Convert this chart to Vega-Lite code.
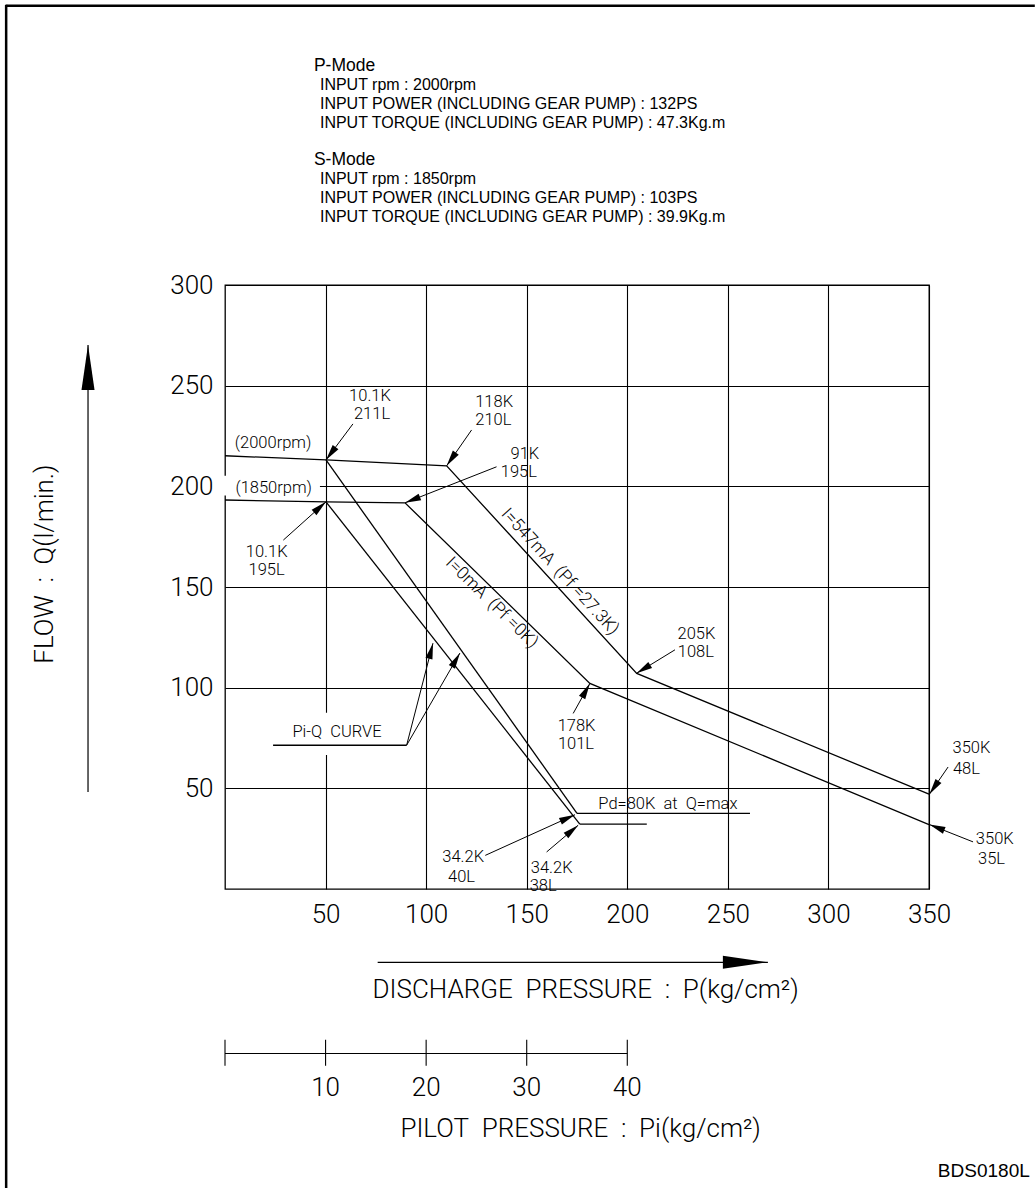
{
  "$schema": "https://vega.github.io/schema/vega-lite/v6.json",
  "width": 704,
  "height": 604,
  "autosize": {"type": "none"},
  "padding": {"left": 225, "top": 285, "right": 106, "bottom": 299},
  "background": "white",
  "config": {"view": {"stroke": "#000", "strokeWidth": 1.3}, "font": "Roboto"},
  "datasets": {
    "masks": [
      {"P": -1.5, "P2": 47.2, "Q": 195.4, "Q2": 205.3},
      {"P": 28.8, "P2": 82.5, "Q": 66.6, "Q2": 87.5}
    ],
    "curves": [
      {"s": "P", "i": 0, "P": 0, "Q": 215.2},
      {"s": "P", "i": 1, "P": 50.2, "Q": 213.1},
      {"s": "P", "i": 2, "P": 110.2, "Q": 210.2},
      {"s": "P", "i": 3, "P": 204.7, "Q": 107.1},
      {"s": "P", "i": 4, "P": 350, "Q": 47.1},
      {"s": "S", "i": 0, "P": 0, "Q": 193.2},
      {"s": "S", "i": 1, "P": 50.2, "Q": 192.3},
      {"s": "S", "i": 2, "P": 89.5, "Q": 191.8},
      {"s": "S", "i": 3, "P": 181.4, "Q": 102.1},
      {"s": "S", "i": 4, "P": 350, "Q": 32.0},
      {"s": "PiQP", "i": 0, "P": 50.2, "Q": 213.1},
      {"s": "PiQP", "i": 1, "P": 175.0, "Q": 37.6},
      {"s": "PiQS", "i": 0, "P": 50.2, "Q": 192.3},
      {"s": "PiQS", "i": 1, "P": 176.4, "Q": 32.2},
      {"s": "PdU", "i": 0, "P": 175.0, "Q": 37.6},
      {"s": "PdU", "i": 1, "P": 261.0, "Q": 37.6},
      {"s": "PdL", "i": 0, "P": 176.4, "Q": 32.2},
      {"s": "PdL", "i": 1, "P": 209.7, "Q": 32.2},
      {"s": "U", "i": 0, "P": 23.9, "Q": 71.4},
      {"s": "U", "i": 1, "P": 90.3, "Q": 71.4}
    ],
    "leaders": [
      {"tx": 50.2, "ty": 213.1, "sx": 63.6, "sy": 231.0},
      {"tx": 110.2, "ty": 210.2, "sx": 122.6, "sy": 228.0},
      {"tx": 89.5, "ty": 191.8, "sx": 135.0, "sy": 209.7},
      {"tx": 50.2, "ty": 192.3, "sx": 29.0, "sy": 173.3},
      {"tx": 204.6, "ty": 107.1, "sx": 223.7, "sy": 118.8},
      {"tx": 181.4, "ty": 102.1, "sx": 173.1, "sy": 87.2},
      {"tx": 350.2, "ty": 47.1, "sx": 359.5, "sy": 60.6},
      {"tx": 350.2, "ty": 32.0, "sx": 371.9, "sy": 23.4},
      {"tx": 174.0, "ty": 36.9, "sx": 129.4, "sy": 16.7},
      {"tx": 175.6, "ty": 31.7, "sx": 159.9, "sy": 18.4},
      {"tx": 103.4, "ty": 122.1, "sx": 90.3, "sy": 71.4},
      {"tx": 116.8, "ty": 117.2, "sx": 90.3, "sy": 71.4}
    ],
    "notes": [
      {"P": 72.1, "Q": 244.7, "t": "10.1K"},
      {"P": 73.1, "Q": 235.7, "t": "211L"},
      {"P": 133.8, "Q": 242.0, "t": "118K"},
      {"P": 133.4, "Q": 233.0, "t": "210L"},
      {"P": 149.1, "Q": 215.9, "t": "91K"},
      {"P": 146.1, "Q": 207.0, "t": "195L"},
      {"P": 20.7, "Q": 167.5, "t": "10.1K"},
      {"P": 20.7, "Q": 158.5, "t": "195L"},
      {"P": 234.4, "Q": 126.7, "t": "205K"},
      {"P": 234.1, "Q": 117.8, "t": "108L"},
      {"P": 174.8, "Q": 81.1, "t": "178K"},
      {"P": 174.5, "Q": 72.1, "t": "101L"},
      {"P": 371.1, "Q": 69.8, "t": "350K"},
      {"P": 368.6, "Q": 59.8, "t": "48L"},
      {"P": 382.7, "Q": 24.6, "t": "350K"},
      {"P": 381.1, "Q": 15.1, "t": "35L"},
      {"P": 118.4, "Q": 15.9, "t": "34.2K"},
      {"P": 117.6, "Q": 6.0, "t": "40L"},
      {"P": 162.4, "Q": 10.4, "t": "34.2K"},
      {"P": 158.2, "Q": 1.4, "t": "38L"},
      {"P": 23.9, "Q": 221.4, "t": "(2000rpm)"},
      {"P": 24.2, "Q": 199.0, "t": "(1850rpm)"},
      {"P": 55.7, "Q": 78.0, "t": "Pi-Q\u00a0\u00a0CURVE"},
      {"P": 220.2, "Q": 42.1, "t": "Pd=80K\u00a0\u00a0at\u00a0\u00a0Q=max"}
    ],
    "modeTitles": [
      {"P": 44.2, "Q": 408.9, "t": "P-Mode"},
      {"P": 44.2, "Q": 362.1, "t": "S-Mode"}
    ],
    "modeLines": [
      {"P": 47.2, "Q": 399.5, "t": "INPUT rpm : 2000rpm"},
      {"P": 47.2, "Q": 390.0, "t": "INPUT POWER (INCLUDING GEAR PUMP) : 132PS"},
      {"P": 47.2, "Q": 380.6, "t": "INPUT TORQUE (INCLUDING GEAR PUMP) : 47.3Kg.m"},
      {"P": 47.2, "Q": 352.6, "t": "INPUT rpm : 1850rpm"},
      {"P": 47.2, "Q": 343.2, "t": "INPUT POWER (INCLUDING GEAR PUMP) : 103PS"},
      {"P": 47.2, "Q": 333.8, "t": "INPUT TORQUE (INCLUDING GEAR PUMP) : 39.9Kg.m"}
    ],
    "frame": [
      {"P": -108.8, "Q": 439.2, "P2": -108.8, "Q2": -148.8},
      {"P": -108.8, "Q": 438.7, "P2": 402.6, "Q2": 438.7}
    ],
    "bigArrows": [
      {"tx": 269.9, "ty": -36.4, "sx": 75.9, "sy": -36.4},
      {"tx": -68.1, "ty": 270.2, "sx": -68.1, "sy": 48.2}
    ],
    "piTicks": [
      {"pi": 0}, {"pi": 10}, {"pi": 20}, {"pi": 30}, {"pi": 40}
    ]
  },
  "layer": [
    {
      "data": {"name": "masks"},
      "mark": {"type": "rect", "fill": "white", "stroke": null},
      "encoding": {
        "x": {"field": "P", "type": "quantitative",
          "scale": {"domain": [0, 350], "nice": false, "zero": false},
          "axis": {"values": [50, 100, 150, 200, 250, 300, 350], "grid": true, "gridColor": "#000", "gridOpacity": 1, "gridWidth": 1.1,
            "domain": false, "ticks": false, "tickSize": 0, "labelFont": "Roboto", "labelFontWeight": 300, "labelFontSize": 26,
            "labelColor": "#000", "labelPadding": 12, "title": null, "labelFlush": false, "labelOverlap": false}},
        "x2": {"field": "P2"},
        "y": {"field": "Q", "type": "quantitative",
          "scale": {"domain": [0, 300], "nice": false, "zero": false},
          "axis": {"values": [50, 100, 150, 200, 250, 300], "grid": true, "gridColor": "#000", "gridOpacity": 1, "gridWidth": 1.1,
            "domain": false, "ticks": false, "tickSize": 0, "labelFont": "Roboto", "labelFontWeight": 300, "labelFontSize": 26,
            "labelColor": "#000", "labelPadding": 12, "title": null, "labelFlush": false, "labelOverlap": false}},
        "y2": {"field": "Q2"}
      }
    },
    {
      "data": {"name": "curves"},
      "mark": {"type": "line", "color": "#000", "strokeWidth": 1.3},
      "encoding": {
        "x": {"field": "P", "type": "quantitative"},
        "y": {"field": "Q", "type": "quantitative"},
        "detail": {"field": "s"},
        "order": {"field": "i", "type": "quantitative"}
      }
    },
    {
      "data": {"name": "leaders"},
      "mark": {"type": "rule", "color": "#000", "strokeWidth": 1},
      "encoding": {
        "x": {"field": "sx", "type": "quantitative"},
        "y": {"field": "sy", "type": "quantitative"},
        "x2": {"field": "tx"},
        "y2": {"field": "ty"}
      }
    },
    {
      "data": {"name": "leaders"},
      "transform": [{"calculate": "atan2(datum.tx - datum.sx, datum.ty - datum.sy) * 180 / PI", "as": "ang"}],
      "mark": {"type": "point", "shape": "M0,0L-0.45,2L0.45,2Z", "filled": true, "fill": "#000", "stroke": null, "opacity": 1, "size": 256},
      "encoding": {
        "x": {"field": "tx", "type": "quantitative"},
        "y": {"field": "ty", "type": "quantitative"},
        "angle": {"field": "ang", "type": "quantitative", "scale": null}
      }
    },
    {
      "data": {"name": "bigArrows"},
      "mark": {"type": "rule", "color": "#000", "strokeWidth": 1.2},
      "encoding": {
        "x": {"field": "sx", "type": "quantitative"},
        "y": {"field": "sy", "type": "quantitative"},
        "x2": {"field": "tx"},
        "y2": {"field": "ty"}
      }
    },
    {
      "data": {"name": "bigArrows"},
      "transform": [{"calculate": "atan2(datum.tx - datum.sx, datum.ty - datum.sy) * 180 / PI", "as": "ang"}],
      "mark": {"type": "point", "shape": "M0,0L-0.29,2L0.29,2Z", "filled": true, "fill": "#000", "stroke": null, "opacity": 1, "size": 2025},
      "encoding": {
        "x": {"field": "tx", "type": "quantitative"},
        "y": {"field": "ty", "type": "quantitative"},
        "angle": {"field": "ang", "type": "quantitative", "scale": null}
      }
    },
    {
      "data": {"name": "frame"},
      "mark": {"type": "rule", "color": "#000", "strokeWidth": 2.5},
      "encoding": {
        "x": {"field": "P", "type": "quantitative"},
        "y": {"field": "Q", "type": "quantitative"},
        "x2": {"field": "P2"},
        "y2": {"field": "Q2"}
      }
    },
    {
      "data": {"values": [{"P": 0, "P2": 200, "Q": -81.7}]},
      "mark": {"type": "rule", "color": "#000", "strokeWidth": 1.1},
      "encoding": {
        "x": {"field": "P", "type": "quantitative"},
        "x2": {"field": "P2"},
        "y": {"field": "Q", "type": "quantitative"}
      }
    },
    {
      "data": {"name": "piTicks"},
      "transform": [{"calculate": "datum.pi * 5", "as": "P"}],
      "mark": {"type": "rule", "color": "#000", "strokeWidth": 1.1},
      "encoding": {
        "x": {"field": "P", "type": "quantitative"},
        "y": {"datum": -74.9, "type": "quantitative"},
        "y2": {"datum": -87.8}
      }
    },
    {
      "data": {"name": "piTicks"},
      "transform": [{"filter": "datum.pi > 0"}, {"calculate": "datum.pi * 5", "as": "P"}],
      "mark": {"type": "text", "font": "Roboto", "fontWeight": 300, "fontSize": 26, "fill": "#000", "align": "center", "baseline": "middle"},
      "encoding": {
        "x": {"field": "P", "type": "quantitative"},
        "y": {"datum": -98.6, "type": "quantitative"},
        "text": {"field": "pi", "type": "quantitative"}
      }
    },
    {
      "data": {"name": "notes"},
      "mark": {"type": "text", "font": "Roboto", "fontWeight": 300, "fontSize": 16.5, "fill": "#000", "align": "center", "baseline": "middle"},
      "encoding": {
        "x": {"field": "P", "type": "quantitative"},
        "y": {"field": "Q", "type": "quantitative"},
        "text": {"field": "t"}
      }
    },
    {
      "data": {"values": [{"P": 166.5, "Q": 157.6, "t": "I=547mA\u00a0\u00a0(Pf\u00a0=27.3K)"}]},
      "mark": {"type": "text", "font": "Roboto", "fontWeight": 300, "fontSize": 17.5, "fill": "#000", "align": "center", "baseline": "middle", "angle": 47.5},
      "encoding": {
        "x": {"field": "P", "type": "quantitative"},
        "y": {"field": "Q", "type": "quantitative"},
        "text": {"field": "t"}
      }
    },
    {
      "data": {"values": [{"P": 132.6, "Q": 142.2, "t": "I=0mA\u00a0\u00a0(Pf\u00a0=0K)"}]},
      "mark": {"type": "text", "font": "Roboto", "fontWeight": 300, "fontSize": 17.5, "fill": "#000", "align": "center", "baseline": "middle", "angle": 44.5},
      "encoding": {
        "x": {"field": "P", "type": "quantitative"},
        "y": {"field": "Q", "type": "quantitative"},
        "text": {"field": "t"}
      }
    },
    {
      "data": {"values": [{"P": -89.5, "Q": 161.4, "t": "FLOW\u00a0\u00a0:\u00a0\u00a0Q(l/min.)"}]},
      "mark": {"type": "text", "font": "Roboto", "fontWeight": 300, "fontSize": 26, "fill": "#000", "align": "center", "baseline": "middle", "angle": 270},
      "encoding": {
        "x": {"field": "P", "type": "quantitative"},
        "y": {"field": "Q", "type": "quantitative"},
        "text": {"field": "t"}
      }
    },
    {
      "data": {"values": [
        {"P": 179.3, "Q": -50.3, "t": "DISCHARGE\u00a0\u00a0PRESSURE\u00a0\u00a0:\u00a0\u00a0P(kg/cm\u00b2)"},
        {"P": 176.8, "Q": -119.1, "t": "PILOT\u00a0\u00a0PRESSURE\u00a0\u00a0:\u00a0\u00a0Pi(kg/cm\u00b2)"}
      ]},
      "mark": {"type": "text", "font": "Roboto", "fontWeight": 300, "fontSize": 26, "fill": "#000", "align": "center", "baseline": "middle"},
      "encoding": {
        "x": {"field": "P", "type": "quantitative"},
        "y": {"field": "Q", "type": "quantitative"},
        "text": {"field": "t"}
      }
    },
    {
      "data": {"name": "modeTitles"},
      "mark": {"type": "text", "font": "Liberation Sans", "fontSize": 17.5, "fill": "#000", "align": "left", "baseline": "middle"},
      "encoding": {
        "x": {"field": "P", "type": "quantitative"},
        "y": {"field": "Q", "type": "quantitative"},
        "text": {"field": "t"}
      }
    },
    {
      "data": {"name": "modeLines"},
      "mark": {"type": "text", "font": "Liberation Sans", "fontSize": 16, "fill": "#000", "align": "left", "baseline": "middle"},
      "encoding": {
        "x": {"field": "P", "type": "quantitative"},
        "y": {"field": "Q", "type": "quantitative"},
        "text": {"field": "t"}
      }
    },
    {
      "data": {"values": [{"P": 400.1, "Q": -139.9, "t": "BDS0180L"}]},
      "mark": {"type": "text", "font": "Liberation Sans", "fontSize": 19, "fill": "#000", "align": "right", "baseline": "middle"},
      "encoding": {
        "x": {"field": "P", "type": "quantitative"},
        "y": {"field": "Q", "type": "quantitative"},
        "text": {"field": "t"}
      }
    }
  ]
}
